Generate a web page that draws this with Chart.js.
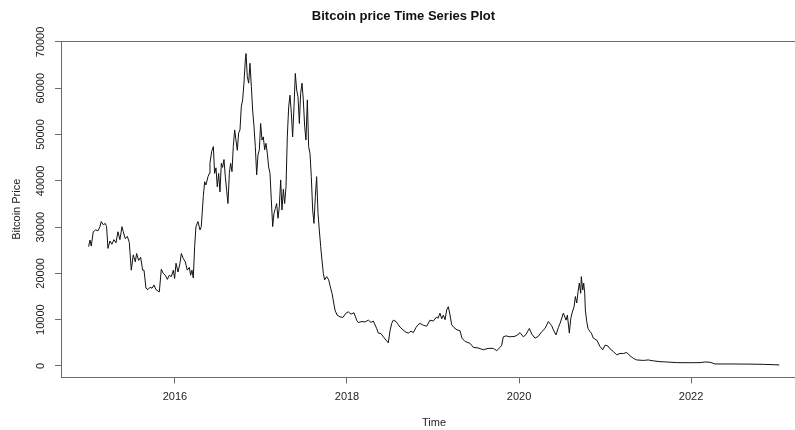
<!DOCTYPE html>
<html>
<head>
<meta charset="utf-8">
<title>Bitcoin price Time Series Plot</title>
<script src="https://cdn.jsdelivr.net/npm/chart.js@4/dist/chart.umd.min.js"></script>
<style>
  html, body { margin: 0; padding: 0; background: #ffffff; overflow: hidden; }
  body { width: 795px; height: 430px; }
  #wrap { width: 812px; height: 430px; }
</style>
</head>
<body>
<div id="wrap"><canvas id="chart" width="812" height="430"></canvas></div>
<script>
// Time stamps of the series (decimal years)
const years = [
  2014.996, 2015.012, 2015.027, 2015.050, 2015.078, 2015.105, 2015.128, 2015.143, 2015.167, 2015.190,
  2015.205, 2015.221, 2015.244, 2015.267, 2015.291, 2015.314, 2015.337, 2015.360, 2015.384, 2015.399,
  2015.422, 2015.446, 2015.469, 2015.492, 2015.515, 2015.539, 2015.554, 2015.578, 2015.601, 2015.624,
  2015.640, 2015.663, 2015.686, 2015.709, 2015.733, 2015.756, 2015.779, 2015.802, 2015.818, 2015.841,
  2015.864, 2015.888, 2015.911, 2015.934, 2015.957, 2015.981, 2015.996, 2016.012, 2016.035, 2016.058,
  2016.074, 2016.097, 2016.120, 2016.143, 2016.167, 2016.182, 2016.198, 2016.213, 2016.229, 2016.244,
  2016.267, 2016.291, 2016.306, 2016.329, 2016.345, 2016.360, 2016.384, 2016.399, 2016.407, 2016.426,
  2016.446, 2016.461, 2016.477, 2016.492, 2016.508, 2016.523, 2016.539, 2016.554, 2016.570, 2016.585,
  2016.601, 2016.616, 2016.632, 2016.647, 2016.663, 2016.678, 2016.694, 2016.709, 2016.725, 2016.740,
  2016.756, 2016.771, 2016.787, 2016.802, 2016.818, 2016.826, 2016.841, 2016.857, 2016.872, 2016.888,
  2016.903, 2016.919, 2016.934, 2016.950, 2016.965, 2016.981, 2016.996, 2017.012, 2017.027, 2017.043,
  2017.058, 2017.074, 2017.089, 2017.105, 2017.120, 2017.136, 2017.151, 2017.167, 2017.182, 2017.198,
  2017.213, 2017.229, 2017.244, 2017.260, 2017.275, 2017.291, 2017.306, 2017.322, 2017.337, 2017.353,
  2017.368, 2017.384, 2017.399, 2017.415, 2017.430, 2017.446, 2017.461, 2017.477, 2017.492, 2017.508,
  2017.523, 2017.539, 2017.554, 2017.570, 2017.585, 2017.601, 2017.616, 2017.632, 2017.647, 2017.663,
  2017.678, 2017.694, 2017.709, 2017.725, 2017.740, 2017.764, 2017.787, 2017.810, 2017.826, 2017.860,
  2017.884, 2017.919, 2017.953, 2017.988, 2018.015, 2018.047, 2018.081, 2018.113, 2018.131, 2018.174,
  2018.209, 2018.248, 2018.279, 2018.306, 2018.345, 2018.364, 2018.395, 2018.422, 2018.453, 2018.480,
  2018.500, 2018.520, 2018.538, 2018.570, 2018.593, 2018.616, 2018.651, 2018.686, 2018.713, 2018.744,
  2018.771, 2018.802, 2018.826, 2018.849, 2018.887, 2018.927, 2018.965, 2019.003, 2019.043, 2019.058,
  2019.081, 2019.101, 2019.120, 2019.140, 2019.159, 2019.178, 2019.198, 2019.217, 2019.244, 2019.279,
  2019.314, 2019.337, 2019.372, 2019.430, 2019.469, 2019.523, 2019.585, 2019.640, 2019.701, 2019.741,
  2019.779, 2019.799, 2019.817, 2019.849, 2019.895, 2019.953, 2019.988, 2020.012, 2020.050, 2020.081,
  2020.120, 2020.148, 2020.186, 2020.224, 2020.264, 2020.302, 2020.341, 2020.380, 2020.399, 2020.430,
  2020.457, 2020.477, 2020.515, 2020.547, 2020.562, 2020.585, 2020.601, 2020.616, 2020.640, 2020.655,
  2020.671, 2020.686, 2020.701, 2020.717, 2020.724, 2020.741, 2020.752, 2020.764, 2020.771, 2020.787,
  2020.802, 2020.826, 2020.841, 2020.864, 2020.903, 2020.942, 2020.973, 2021.000, 2021.035, 2021.058,
  2021.097, 2021.136, 2021.174, 2021.213, 2021.252, 2021.291, 2021.329, 2021.369, 2021.445, 2021.503,
  2021.562, 2021.640, 2021.717, 2021.834, 2021.988, 2022.105, 2022.163, 2022.221, 2022.279, 2022.453,
  2022.686, 2022.841, 2023.027
];

// Bitcoin price at each time stamp
const prices = [
  25800, 27200, 25900, 29000, 29400, 29200, 30100, 31200, 30500, 30800,
  30100, 25400, 27000, 26300, 27300, 26600, 29000, 27300, 30100, 29000,
  27500, 28000, 26700, 20700, 24000, 22500, 24300, 22800, 23500, 20700,
  20700, 16800, 16500, 17000, 16800, 17500, 16500, 16200, 16000, 20900,
  20000, 19600, 18700, 19600, 19300, 20700, 18900, 22200, 20300, 22200,
  24300, 23200, 22500, 20700, 21300, 19600, 20700, 19000, 25800, 30100,
  31200, 29400, 30100, 36600, 39800, 39100, 40900, 41600, 43800, 46300,
  47400, 41600, 42800, 38700, 41600, 37600, 43800, 42900, 44600, 41000,
  37900, 35100, 41600, 43800, 42000, 47400, 51000, 48800, 46600, 50300,
  51000, 56000, 57500, 61100, 66100, 67500, 62500, 61100, 65400, 60400,
  55300, 51700, 47400, 41300, 45600, 46700, 52400, 48800, 49500, 46700,
  48100, 45900, 43000, 41600, 35900, 30100, 33000, 34000, 35100, 31900,
  34400, 40200, 33700, 38200, 35100, 38700, 49500, 56000, 58500, 54600,
  49500, 56000, 63200, 59600, 58200, 52400, 58900, 61100, 57500, 51700,
  48800, 57500, 47400, 45900, 40900, 33700, 30800, 36600, 40900, 33000,
  29400, 25800, 22900, 20000, 18600, 19300, 18600, 16800, 15700, 12100,
  11000, 10600, 10500, 11400, 11700, 11200, 11500, 9900, 9400, 9600,
  9500, 9900, 9400, 9700, 8100, 7100, 7000, 6300, 5600, 5000,
  7600, 9200, 9900, 9600, 9000, 8400, 7800, 7300, 7100, 7500,
  7200, 8300, 8900, 9200, 8800, 8600, 9900, 9700, 10600, 10300,
  11400, 10200, 11000, 10000, 12100, 12800, 11000, 8900, 8300, 7800,
  7600, 6000, 5300, 4900, 4000, 3900, 3500, 3800, 3800, 3300,
  4000, 4500, 6300, 6500, 6300, 6400, 6800, 7200, 6300, 6800,
  8100, 6900, 6000, 6400, 7400, 8100, 9600, 8700, 7800, 6700,
  8300, 9200, 11400, 9900, 11000, 7100, 10200, 11400, 12800, 15000,
  13600, 16000, 17900, 15700, 19300, 16400, 17900, 15700, 12100, 9600,
  8100, 7400, 7100, 6000, 5600, 4200, 3500, 4500, 4300, 3700,
  3100, 2400, 2700, 2700, 2900, 2200, 1650, 1300, 1200, 1300,
  1100, 930, 860, 720, 700, 720, 860, 800, 430, 430,
  400, 350, 220
];

const xTicks = [2016, 2018, 2020, 2022];
const yTicks = [0, 10000, 20000, 30000, 40000, 50000, 60000, 70000];

const points = years.map((t, i) => ({ x: t, y: prices[i] }));

const font = 'Arial, "Liberation Sans", Helvetica, sans-serif';
const axisGrey = '#6b6b6b';

// Plot frame drawn around the chart area
const frame = {
  id: 'frame',
  afterDraw(chart) {
    const { ctx, chartArea: a } = chart;
    ctx.save();
    ctx.strokeStyle = axisGrey;
    ctx.lineWidth = 1;
    ctx.strokeRect(Math.round(a.left) + 0.5, Math.round(a.top) + 0.5,
                   Math.round(a.right - a.left), Math.round(a.bottom - a.top));
    ctx.restore();
  }
};

new Chart(document.getElementById('chart'), {
  type: 'line',
  data: {
    datasets: [{
      data: points,
      borderColor: '#111111',
      borderWidth: 1,
      pointRadius: 0,
      tension: 0,
      fill: false
    }]
  },
  options: {
    responsive: false,
    animation: false,
    events: [],
    layout: { padding: { left: 0, right: 5, top: 0, bottom: 0 } },
    plugins: {
      legend: { display: false },
      tooltip: { enabled: false },
      title: {
        display: true,
        text: 'Bitcoin price Time Series Plot',
        color: '#111111',
        font: { family: font, size: 13, weight: 'bold' },
        padding: { top: 9, bottom: 16.5 }
      }
    },
    scales: {
      x: {
        type: 'linear',
        min: 2014.675,
        max: 2023.348,
        afterBuildTicks: s => { s.ticks = xTicks.map(v => ({ value: v })); },
        afterFit: s => { s.height = 52.6; },
        border: { display: false },
        grid: { display: true, drawOnChartArea: false, drawTicks: true, tickLength: 6, color: axisGrey },
        ticks: {
          autoSkip: false,
          maxRotation: 0,
          padding: 7,
          color: '#222222',
          font: { family: font, size: 11 },
          callback: v => String(v)
        },
        title: {
          display: true,
          text: 'Time',
          color: '#222222',
          font: { family: font, size: 11 },
          padding: { top: 0, bottom: 0 }
        }
      },
      y: {
        type: 'linear',
        min: -2471,
        max: 70191,
        afterBuildTicks: s => { s.ticks = yTicks.map(v => ({ value: v })); },
        afterFit: s => { s.width = 61; },
        border: { display: false },
        grid: { display: true, drawOnChartArea: false, drawTicks: true, tickLength: 6, color: axisGrey },
        ticks: {
          autoSkip: false,
          minRotation: 90,
          maxRotation: 90,
          crossAlign: 'center',
          padding: -1,
          color: '#222222',
          font: { family: font, size: 11 },
          callback: v => String(v)
        },
        title: {
          display: true,
          text: 'Bitcoin Price',
          color: '#222222',
          font: { family: font, size: 11 },
          padding: { top: 10, bottom: 0 }
        }
      }
    }
  },
  plugins: [frame]
});
</script>
</body>
</html>
